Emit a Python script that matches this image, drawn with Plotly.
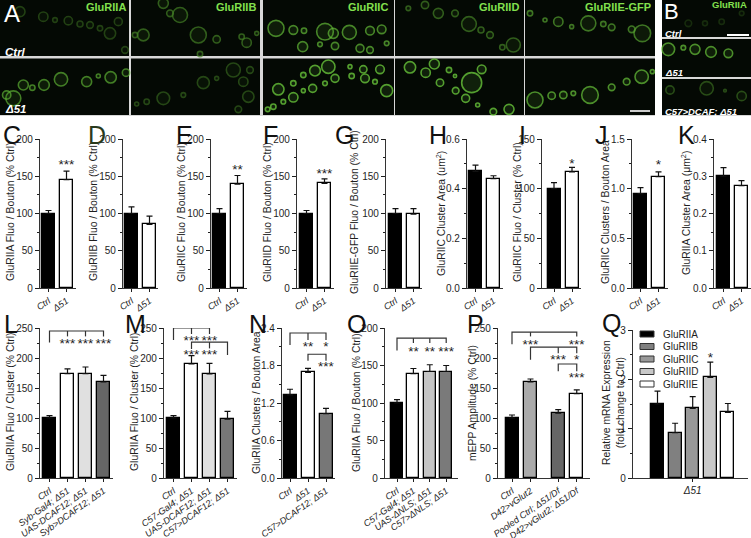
import plotly.graph_objects as go

W, H = 751, 538
FONT = "Liberation Sans"
INK = "#1e1e1e"

# ---- bar data (value, top of error bar) ----
two_cats = ["Ctrl", "Δ51"]
c_vals = [100, 145.5]; c_tops = [104, 157]
d_vals = [100, 85.5];  d_tops = [109, 96.5]
e_vals = [100, 139.5]; e_tops = [106.5, 151]
f_vals = [100, 140.5]; f_tops = [104, 146.5]
g_vals = [100, 99];    g_tops = [106.5, 106.5]
h_vals = [0.47, 0.44]; h_tops = [0.495, 0.452]
i_vals = [100, 117];   i_tops = [106, 121.5]
j_vals = [0.95, 1.12]; j_tops = [1.01, 1.17]
k_vals = [0.30, 0.275]; k_tops = [0.323, 0.288]

l_cats = ["Ctrl", "Syb-Gal4; Δ51", "UAS-DCAF12; Δ51", "Syb>DCAF12; Δ51"]
l_vals = [100, 174, 174, 160]; l_tops = [104, 182, 185, 171]
m_cats = ["Ctrl", "C57-Gal4; Δ51", "UAS-DCAF12; Δ51", "C57>DCAF12; Δ51"]
m_vals = [100, 190, 173.5, 98]; m_tops = [104, 204, 191, 111]
n_cats = ["Ctrl", "Δ51", "C57>DCAF12; Δ51"]
n_vals = [1.33, 1.69, 1.03]; n_tops = [1.42, 1.755, 1.115]
o_cats = ["Ctrl", "C57-Gal4; Δ51", "UAS-ΔNLS; Δ51", "C57>ΔNLS; Δ51"]
o_vals = [100, 139, 142, 142]; o_tops = [104.5, 146, 151, 150]
p_cats = ["Ctrl", "D42>vGlut2", "Pooled Ctrl; Δ51/Df", "D42>vGlut2; Δ51/Df"]
p_vals = [100, 160, 108, 140.5]; p_tops = [105, 165, 114, 147]
q_names = ["GluRIIA", "GluRIIB", "GluRIIC", "GluRIID", "GluRIIE"]
q_vals = [1.5, 0.92, 1.41, 2.04, 1.33]; q_tops = [1.76, 1.11, 1.65, 2.35, 1.51]
q_colors = ["#000000", "#808080", "#999999", "#c8c8c8", "#ffffff"]

# ---- boutons in the micrographs: (x, y, diameter) in 3x picture units ----
a_iia_ctrl = [(60,35,30),(130,50,28),(165,60,14),(205,62,25),(240,72,18),(270,75,20),(300,85,16),(330,100,34),(355,65,24),(375,150,20)]
a_iia_d51 = [(40,295,45),(20,285,25),(70,255,30),(97,263,16),(132,255,32),(183,238,40),(260,245,30),(295,228,12),(332,232,34),(378,218,22)]
a_iib_ctrl = [(490,10,30),(540,45,45),(510,40,20),(595,105,48),(430,105,35),(405,105,16),(650,118,22),(725,110,16),(740,128,28),(770,100,12),(600,162,16)]
a_iib_d51 = [(490,295,38),(440,305,16),(410,312,12),(550,285,14),(610,248,36),(650,235,12),(700,210,42),(750,210,20),(730,245,28),(745,290,34),(715,328,20)]
a_iic_ctrl = [(828,85,48),(880,90,26),(912,92,16),(975,95,50),(1000,100,30),(1048,97,42),(1110,92,26),(1145,88,26),(908,140,30),(960,133,14),(1005,138,22),(1080,145,24),(1110,150,20),(1160,130,14)]
a_iic_d51 = [(835,268,34),(880,250,16),(910,225,16),(945,212,32),(985,200,40),(1050,200,12),(1090,208,22),(1140,208,26),(1005,235,24),(975,250,14),(938,265,24),(910,272,12),(880,292,28),(850,305,14),(820,320,16),(803,328,14),(1055,228,16),(1095,235,26),(1125,245,14),(1160,272,36)]
a_iid_ctrl = [(40,25,14),(90,15,22),(130,40,30),(180,40,20),(222,72,44),(258,90,18),(285,105,20),(322,142,16),(355,135,42)]
a_iid_d51 = [(45,202,34),(118,192,30),(92,218,28),(135,248,22),(162,210,16),(182,272,20),(260,208,26),(230,248,60),(212,295,24),(248,315,12),(295,335,20),(342,328,30),(180,228,10)]
a_iie_ctrl = [(405,40,16),(450,60,12),(490,65,28),(530,80,12),(580,70,45),(625,72,16),(650,82,20),(710,88,20),(742,100,50)]
a_iie_d51 = [(420,300,48),(470,287,22),(505,285,22),(535,280,14),(585,285,50),(650,262,20),(695,245,20),(740,230,40),(772,215,12)]
b_ctrl = [(880,70,20),(930,70,15),(980,65,16),(1040,40,14)]
b_d51 = [(820,148,38),(865,143,14),(900,148,30),(948,156,32),(1000,160,26)]
b_rescue = [(825,270,25),(935,265,40),(1040,288,28),(990,272,8)]

fig = go.Figure()
shapes, annots = [], []
axis_no = [1]


def note(px, py, text, size=10, color=INK, anchor="center", angle=0, bold=False, italic=False, va="middle"):
    if bold:
        text = f"<b>{text}</b>"
    if italic:
        text = f"<i>{text}</i>"
    annots.append(dict(xref="paper", yref="paper", x=px / W, y=1 - py / H, text=text, showarrow=False,
                       xanchor=anchor, yanchor=va, textangle=angle, align="center",
                       font=dict(family=FONT, size=size, color=color)))


def box(x0, y0, x1, y1, fill, line=None, lw=0):
    shapes.append(dict(type="rect", xref="paper", yref="paper", x0=x0 / W, x1=x1 / W, y0=1 - y0 / H, y1=1 - y1 / H,
                       fillcolor=fill, line=dict(color=line or fill, width=lw), layer="above" if line else "below"))


def panel(left, right, top, bottom, ymax, major, minor, cats, vals, tops, colors, c0, step, barw,
          pos=None, ticks=None, fmt=None, lab=9.2, angle=-35, brackets=(), stars=()):
    n = axis_no[0]
    axis_no[0] += 1
    xa, ya = ("x", "y") if n == 1 else (f"x{n}", f"y{n}")
    pos = pos or list(range(len(vals)))
    fig.add_trace(go.Bar(x=pos, y=vals, width=barw / step, xaxis=xa, yaxis=ya, showlegend=False,
                         marker=dict(color=colors, line=dict(color="#000000", width=1.3)),
                         error_y=dict(type="data", symmetric=False, array=[t - v for t, v in zip(tops, vals)],
                                      arrayminus=[0] * len(vals), color="#111111", thickness=1.2, width=3)))
    for seg in brackets:
        fig.add_trace(go.Scatter(x=[p[0] for p in seg], y=[p[1] for p in seg], mode="lines", xaxis=xa, yaxis=ya,
                                 showlegend=False, cliponaxis=False, line=dict(color="#333333", width=1.2)))
    if stars:
        # the asterisk sits high in its line box: lower it by 2.5 px so the glyph lands on the value
        drop = 2.5 * ymax / (bottom - top)
        fig.add_trace(go.Scatter(x=[s[0] for s in stars], y=[s[1] - drop for s in stars], text=[s[2] for s in stars],
                                 mode="text", xaxis=xa, yaxis=ya, showlegend=False, cliponaxis=False,
                                 textposition="middle center", textfont=dict(family=FONT, size=13.5, color=INK)))
    xk = "xaxis" if n == 1 else f"xaxis{n}"
    yk = "yaxis" if n == 1 else f"yaxis{n}"
    fig.update_layout(**{
        xk: dict(domain=[left / W, right / W], range=[(left - c0) / step, (right - c0) / step], anchor=ya,
                 automargin=False, tickmode="array", tickvals=ticks if ticks is not None else pos, ticktext=cats,
                 tickangle=angle, ticks="outside", ticklen=3, tickwidth=1.2, tickcolor=INK, showgrid=False,
                 showline=True, linecolor="#333333", linewidth=1.3, zeroline=False,
                 tickfont=dict(family=FONT, size=lab, color=INK, style="italic")),
        yk: dict(domain=[1 - bottom / H, 1 - top / H], range=[0, ymax], anchor=xa, automargin=False, tickmode="linear", tick0=0,
                 dtick=major, tickformat=fmt, ticks="outside", ticklen=4, tickwidth=1.2, tickcolor=INK,
                 minor=dict(dtick=minor, ticks="outside", ticklen=2, tickwidth=1.1, tickcolor=INK),
                 showgrid=False, showline=True, linecolor="#333333", linewidth=1.3, zeroline=False,
                 tickfont=dict(family=FONT, size=10, color=INK)),
    })


BW = ["#000000", "#ffffff"]
TOP, BOT = 139, 288
step2, bw2 = 18, 13
panel(40, 76, TOP, BOT, 200, 50, 25, two_cats, c_vals, c_tops, BW, 48.5, step2, bw2, stars=[(1, 168, "***")])
panel(123, 158, TOP, BOT, 200, 50, 25, two_cats, d_vals, d_tops, BW, 131.5, step2, bw2)
panel(211, 247, TOP, BOT, 200, 50, 25, two_cats, e_vals, e_tops, BW, 219.5, step2, bw2, stars=[(1, 161, "**")])
panel(297, 334, TOP, BOT, 200, 50, 25, two_cats, f_vals, f_tops, BW, 306.5, step2, bw2, stars=[(1, 156, "***")])
panel(386, 422, TOP, BOT, 200, 50, 25, two_cats, g_vals, g_tops, BW, 395.5, step2, bw2)
panel(467, 503, TOP, BOT, 0.6, 0.2, 0.1, two_cats, h_vals, h_tops, BW, 475.5, step2, bw2, fmt=".1f")
panel(542, 581, TOP, BOT, 150, 50, 25, two_cats, i_vals, i_tops, BW, 554, step2, bw2, stars=[(1, 127, "*")])
panel(632, 668, TOP, BOT, 1.5, 0.5, 0.25, two_cats, j_vals, j_tops, BW, 640.5, step2, bw2, fmt=".1f", stars=[(1, 1.26, "*")])
panel(714, 751, TOP, BOT, 0.4, 0.1, 0.05, two_cats, k_vals, k_tops, BW, 723.5, step2, bw2, fmt=".1f")

T2, B2 = 328, 478
panel(40, 113, T2, B2, 250, 50, 25, l_cats, l_vals, l_tops, ["#000000", "#ffffff", "#e0e0e0", "#666666"], 49.5, 18, 13,
      brackets=[[(0, 226), (0, 245), (3, 245), (3, 236)], [(1, 245), (1, 236)], [(2, 245), (2, 236)]],
      stars=[(1, 226, "***"), (2, 226, "***"), (3, 226, "***")])
panel(164, 237, T2, B2, 250, 50, 25, m_cats, m_vals, m_tops, ["#000000", "#ffffff", "#e0e0e0", "#777777"], 173.5, 18, 13,
      brackets=[[(0, 230), (0, 250), (2, 250), (2, 240)], [(1, 250), (1, 240)],
                [(1, 215), (1, 226.5), (3, 226.5), (3, 205)], [(2, 226.5), (2, 216)]],
      stars=[(1, 232, "***"), (2, 232, "***"), (1, 208, "***"), (2, 208, "***")])
panel(282, 335, T2, B2, 2.4, 0.6, 0.3, n_cats, n_vals, n_tops, ["#000000", "#ffffff", "#777777"], 290, 18, 13, fmt=".1f",
      brackets=[[(0, 2.13), (0, 2.32), (2, 2.32), (2, 2.21)], [(1, 2.32), (1, 2.21)],
                [(1, 1.875), (1, 1.98), (2, 1.98), (2, 1.875)]],
      stars=[(1, 2.13, "**"), (2, 2.13, "*"), (2, 1.8, "***")])
panel(385, 458, T2, B2, 200, 50, 25, o_cats, o_vals, o_tops, ["#000000", "#ffffff", "#c4c4c4", "#7a7a7a"], 397, 16.4, 12,
      brackets=[[(0, 170), (0, 186.5), (3, 186.5), (3, 180)], [(1, 186.5), (1, 180)], [(2, 186.5), (2, 180)]],
      stars=[(1, 170, "**"), (2, 170, "**"), (3, 170, "***")])
panel(498, 590, T2, B2, 250, 50, 25, p_cats, p_vals, p_tops, ["#000000", "#aaaaaa", "#666666", "#ffffff"], 512, 18.5, 13,
      pos=[0, 1, 2.5, 3.5],
      brackets=[[(0, 223), (0, 243), (3.5, 243), (3.5, 236)], [(1, 243), (1, 236)],
                [(1, 197), (1, 218), (3.5, 218), (3.5, 208)], [(2.5, 218), (2.5, 208)],
                [(2.5, 178), (2.5, 190), (3.5, 190), (3.5, 178)]],
      stars=[(1, 224, "***"), (3.5, 224, "***"), (2.5, 199, "***"), (3.5, 199, "*"), (3.5, 170, "***")])
panel(633, 748, 330, B2, 3, 1, 0.5, ["Δ51"], q_vals, q_tops, q_colors, 657.5, 17.6, 13, ticks=[2], lab=10, angle=0,
      stars=[(3, 2.47, "*")])

# ---- y titles ----
y_titles = [
    (11, 212, "GluRIIA Fluo / Bouton (% Ctrl)"), (94, 212, "GluRIIB Fluo / Bouton (% Ctrl)"),
    (182, 212, "GluRIIC Fluo / Bouton (% Ctrl)"), (268, 212, "GluRIID Fluo / Bouton (% Ctrl)"),
    (355, 212, "GluRIIE-GFP Fluo / Bouton (% Ctrl)"), (440, 213, "GluRIIC Cluster Area (um<sup>2</sup>)"),
    (518, 212, "GluRIIC Fluo / Cluster (% Ctrl)"), (606, 212, "GluRIIC Clusters / Bouton Area"),
    (685, 213, "GluRIIA Cluster Area (μm<sup>2</sup>)"), (10, 402, "GluRIIA Fluo / Cluster (% Ctrl)"),
    (134, 402, "GluRIIA Fluo / Cluster (% Ctrl)"), (256, 403, "GluRIIA Clusters / Bouton Area"),
    (356, 403, "GluRIIA Fluo / Bouton (% Ctrl)"), (472, 403, "mEPP Amplitude (% Ctrl)"),
    (613, 403, "Relative mRNA Expression<br>(fold change to Ctrl)"),
]
for px, py, t in y_titles:
    note(px, py, t, size=10.4, angle=-90)

# ---- panel letters ----
letters = [("C", 1, 135), ("D", 86, 135), ("E", 174, 135), ("F", 261, 135), ("G", 333, 135), ("H", 427, 135),
           ("I", 517, 135), ("J", 593, 135), ("K", 676, 135), ("L", 2, 324), ("M", 123, 324), ("N", 247, 324),
           ("O", 345, 324), ("P", 465, 324), ("Q", 600, 323)]
for t, px, py in letters:
    note(px, py, t, size=25, color="#2a3a1c" if t == "D" else "#111111", anchor="left")

# ---- Q legend ----
for i, nm in enumerate(q_names):
    y = 334 + i * 12.5
    box(640, y - 3, 654, y + 3, q_colors[i], line="#333333", lw=1)
    note(661, y, nm, size=10, anchor="left")

# ---- micrographs ----
DARK = "#040904"
box(0, 0, 655, 116, "#d8d8d8")
box(662, 0, 751, 116, "#d8d8d8")
for x0, x1 in [(0, 129), (131, 260), (263, 394), (395, 524), (525, 655)]:
    box(x0, 0, x1, 56, DARK)
    box(x0, 58.5, x1, 115, DARK)
box(662, 0, 751, 37, DARK)
box(662, 39, 751, 77, DARK)
box(662, 79, 751, 115, DARK)

n = axis_no[0]
fig.update_layout(**{f"xaxis{n}": dict(domain=[0, 1], range=[0, W], visible=False, fixedrange=True, automargin=False),
                     f"yaxis{n}": dict(domain=[0, 1], range=[H, 0], visible=False, anchor=f"x{n}", fixedrange=True, automargin=False)})


def cells(items, ox, level):
    r, g, b = int(125 * level), int(235 * level), int(70 * level)
    fig.add_trace(go.Scatter(
        x=[ox + p[0] / 3 for p in items], y=[p[1] / 3 for p in items], mode="markers", xaxis=f"x{n}", yaxis=f"y{n}",
        showlegend=False, cliponaxis=True,
        marker=dict(symbol="circle", size=[p[2] / 3 for p in items], color=f"rgba({r},{g},{b},0.16)",
                    line=dict(color=f"rgb({r},{g},{b})", width=1.6))))


cells(a_iia_ctrl, 0, 0.38); cells(a_iia_d51, 0, 0.75)
cells(a_iib_ctrl, 0, 0.55); cells(a_iib_d51, 0, 0.42)
cells(a_iic_ctrl, 0, 0.8); cells(a_iic_d51, 0, 0.95)
cells(a_iid_ctrl, 395, 0.55); cells(a_iid_d51, 395, 0.95)
cells(a_iie_ctrl, 395, 0.7); cells(a_iie_d51, 395, 0.85)
cells(b_ctrl, 395, 0.25); cells(b_d51, 395, 0.85); cells(b_rescue, 395, 0.45)

GREEN = "#82e04e"
for px, t in [(128, "GluRIIA"), (258, "GluRIIB"), (390, "GluRIIC"), (521, "GluRIID"), (653, "GluRIIE-GFP")]:
    note(px, 7, t, size=11, color=GREEN, anchor="right", bold=True)
note(749, 5, "GluRIIA", size=9.5, color=GREEN, anchor="right", bold=True)
for py, t in [(52, "Ctrl"), (109, "Δ51")]:
    note(3, py, t, size=11.5, color="#ffffff", anchor="left", bold=True, italic=True)
for py, t in [(33, "Ctrl"), (72, "Δ51"), (111, "C57>DCAF; Δ51")]:
    note(663, py, t, size=9.5, color="#ffffff", anchor="left", bold=True, italic=True)
note(2, 14, "A", size=24, color="#ffffff", anchor="left")
note(662, 11, "B", size=22, color="#ffffff", anchor="left")
box(630, 110, 650, 112, "#cccccc")
box(727, 34, 749, 36, "#ffffff")

fig.update_layout(width=W, height=H, margin=dict(l=0, r=0, t=0, b=0, autoexpand=False), paper_bgcolor="white", plot_bgcolor="rgba(0,0,0,0)",
                  bargap=0, showlegend=False, shapes=shapes, annotations=annots, font=dict(family=FONT))
fig.write_html("out.html", config={"displayModeBar": False},
               post_script="document.body.style.margin='0';document.body.style.overflow='hidden';")
